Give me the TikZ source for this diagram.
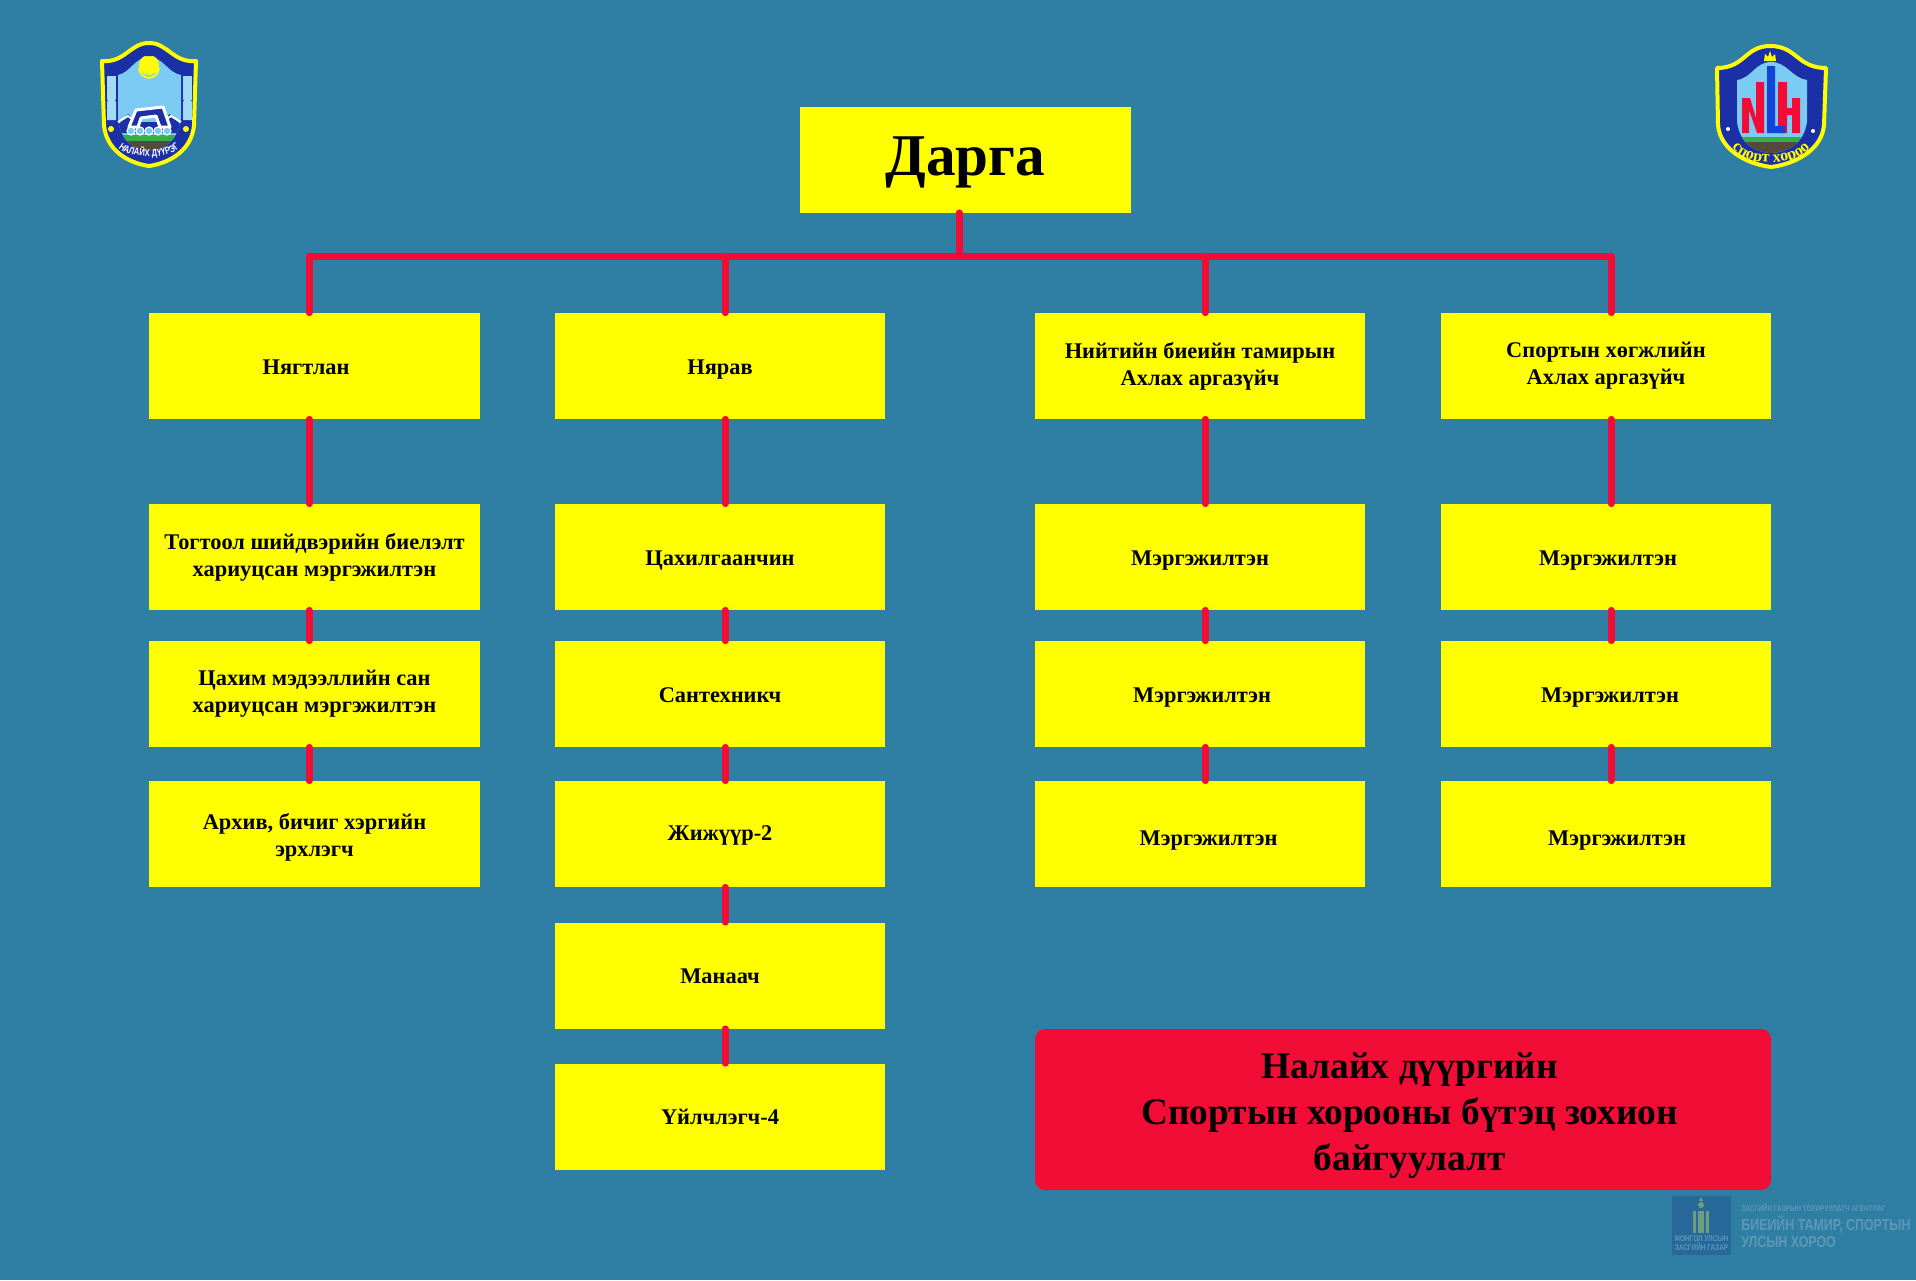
\documentclass[tikz,border=0pt]{standalone}
\usepackage{fontspec}
\setmainfont{Liberation Serif}
\newfontfamily\markfont[FakeStretch=0.78]{Liberation Sans}
\usetikzlibrary{decorations.text}
\definecolor{bgteal}{HTML}{2E7FA3}
\definecolor{boxyellow}{HTML}{FFFF00}
\definecolor{linkred}{HTML}{F20D36}
\definecolor{shieldblue}{HTML}{1B2FA6}
\definecolor{skyblue}{HTML}{7CCBF2}
\definecolor{rockbrown}{HTML}{55483C}
\definecolor{grassgreen}{HTML}{35B043}
\definecolor{letterblue}{HTML}{1244DC}
\definecolor{govblue}{HTML}{27699B}
\definecolor{govtext}{HTML}{5C98B6}
\definecolor{govgreen}{HTML}{6E9E7E}
\tikzset{
	postbox/.style={fill=boxyellow,minimum width=165.25pt,minimum height=53pt,inner sep=0pt,align=center,font=\bfseries\fontsize{11.2}{13.5}\selectfont},
	oneline/.style={postbox,text height=9.5pt,text depth=1.5pt},
	topbox/.style={postbox,text height=21pt,text depth=5.5pt,font=\bfseries\fontsize{29.6}{34}\selectfont},
	titlebox/.style={fill=linkred,rounded corners=5pt,minimum width=368pt,minimum height=80.5pt,inner sep=0pt,align=center,font=\bfseries\fontsize{18.7}{23}\selectfont},
	link/.style={draw=linkred,line width=3.5pt,line cap=round},
	govnote/.style={text=govtext,anchor=west,inner sep=0pt,font=\markfont\bfseries\fontsize{7.95}{10}\selectfont},
	govsmall/.style={govnote,font=\markfont\bfseries\fontsize{4.13}{5}\selectfont},
}
\newcommand{\emblemfont}{\markfont\bfseries\color{white}\fontsize{5}{5}\selectfont}
\newcommand{\sportfont}{\bfseries\color{boxyellow}\fontsize{8}{9}\selectfont}
\begin{document}
\begin{tikzpicture}[x=0.5pt,y=-0.5pt]
	\useasboundingbox (0,0) rectangle (1916,1280);
	\fill[bgteal] (0,0) rectangle (1916,1280);
	% boxes
	\node[topbox] (darga) at (965.5,159.5) {Дарга};
	\node[oneline] (nyagt) at (314.5,366) {\hspace*{-8.5pt}Нягтлан};
	\node[oneline] (nyarav) at (720,366) {Нярав};
	\node[postbox] (biye) at (1200,366) {Нийтийн биеийн тамирын\\Ахлах аргазүйч};
	\node[postbox] (sport) at (1606,366) {Спортын хөгжлийн\\Ахлах аргазүйч};
	\node[postbox] (togtool) at (314.5,557) {Тогтоол шийдвэрийн биелэлт\\хариуцсан мэргэжилтэн};
	\node[postbox] (tsakhim) at (314.5,694) {Цахим мэдээллийн сан\\хариуцсан мэргэжилтэн};
	\node[postbox] (arkhiv) at (314.5,834) {\rule{0pt}{11pt}Архив, бичиг хэргийн\\эрхлэгч};
	\node[oneline] (tsakhil) at (720,557) {Цахилгаанчин};
	\node[oneline] (santekh) at (720,694) {Сантехникч};
	\node[oneline] (jijuur) at (720,834) {\raisebox{1pt}{Жижүүр-2}};
	\node[oneline] (manaach) at (720,975.5) {Манаач};
	\node[oneline] (uilch) at (720,1116.5) {Үйлчлэгч-4};
	\node[oneline] (mergA) at (1200,557) {Мэргэжилтэн};
	\node[oneline] (mergB) at (1200,694) {\hspace*{2pt}Мэргэжилтэн};
	\node[oneline] (mergC) at (1200,834) {\hspace*{8.5pt}\raisebox{-1.5pt}{Мэргэжилтэн}};
	\node[oneline] (mergD) at (1606,557) {\hspace*{2pt}Мэргэжилтэн};
	\node[oneline] (mergE) at (1606,694) {\hspace*{4pt}Мэргэжилтэн};
	\node[oneline] (mergF) at (1606,834) {\hspace*{11pt}\raisebox{-1.5pt}{Мэргэжилтэн}};
	\node[titlebox] (title) at (1403,1109.5) {\rule{0pt}{19pt}\hspace*{6.7pt}Налайх дүүргийн\\\hspace*{6.7pt}Спортын хорооны бүтэц зохион\\\hspace*{6.7pt}байгуулалт};
	% connectors
	\coordinate (busTop) at (959,256);
	\coordinate (busA) at (309,256);
	\coordinate (busB) at (725,256);
	\coordinate (busC) at (1205,256);
	\coordinate (busD) at (1611,256);
	\draw[link,line cap=butt] (busA) -- (busD);
	\draw[link] (busTop |- darga.south) -- (busTop);
	\draw[link] (busA) -- (busA |- nyagt.north);
	\draw[link] (busB) -- (busB |- nyarav.north);
	\draw[link] (busC) -- (busC |- biye.north);
	\draw[link] (busD) -- (busD |- sport.north);
	\draw[link] (busA |- nyagt.south) -- (busA |- togtool.north);
	\draw[link] (busA |- togtool.south) -- (busA |- tsakhim.north);
	\draw[link] (busA |- tsakhim.south) -- (busA |- arkhiv.north);
	\draw[link] (busB |- nyarav.south) -- (busB |- tsakhil.north);
	\draw[link] (busB |- tsakhil.south) -- (busB |- santekh.north);
	\draw[link] (busB |- santekh.south) -- (busB |- jijuur.north);
	\draw[link] (busB |- jijuur.south) -- (busB |- manaach.north);
	\draw[link] (busB |- manaach.south) -- (busB |- uilch.north);
	\draw[link] (busC |- biye.south) -- (busC |- mergA.north);
	\draw[link] (busC |- mergA.south) -- (busC |- mergB.north);
	\draw[link] (busC |- mergB.south) -- (busC |- mergC.north);
	\draw[link] (busD |- sport.south) -- (busD |- mergD.north);
	\draw[link] (busD |- mergD.south) -- (busD |- mergE.north);
	\draw[link] (busD |- mergE.south) -- (busD |- mergF.north);
	% left emblem
	\draw[fill=shieldblue,draw=boxyellow,line width=2pt,line join=round] (102,61) .. controls (125,63) and (130,43) .. (149,43) .. controls (168,43) and (173,63) .. (196,61) -- (194,125) .. controls (192,150) and (170,163) .. (149,166) .. controls (128,163) and (106,150) .. (104,125) -- cycle;
	\begin{scope}
		\clip (118,75) .. controls (130,73) and (135,57) .. (149,57) .. controls (163,57) and (168,73) .. (181,75) -- (181,118) .. controls (178,140) and (165,150) .. (149,151) .. controls (133,150) and (120,140) .. (118,118) -- cycle;
		\fill[skyblue] (110,50) rectangle (190,155);
		\fill[shieldblue] (118,125) -- (128,114) -- (138,122) -- (160,122) -- (170,114) -- (181,125) -- (181,133) -- (118,133) -- cycle;
		\fill[grassgreen] (110,135) rectangle (190,141);
		\fill[rockbrown] (110,141) rectangle (190,155);
	\end{scope}
	\draw[white,line width=1pt] (118,122) -- (128,116) -- (134,120);
	\draw[white,line width=1pt] (181,122) -- (171,116) -- (165,120);
	\draw[fill=shieldblue,draw=white,line width=1.5pt,line join=round] (129,127) -- (136,110) -- (163,107) -- (170,127) -- (160,127) -- (156,116) -- (141,118) -- (138,127) -- cycle;
	\foreach \dotx in {131,140,149,158,167}
		\draw[white,fill=skyblue,line width=0.6pt] (\dotx,131) circle[radius=4];
	\fill[skyblue!70!white] (107,76) rectangle (116,100);
	\fill[skyblue!70!white] (107,102) -- (111.5,95) -- (116,102) -- (116,120) -- (107,120) -- cycle;
	\fill[skyblue!70!white] (183,76) rectangle (192,100);
	\fill[skyblue!70!white] (183,102) -- (187.5,95) -- (192,102) -- (192,120) -- (183,120) -- cycle;
	\fill[boxyellow] (111,129) circle[radius=3];
	\fill[boxyellow] (186,129) circle[radius=3];
	\fill[boxyellow] (149,65) circle[radius=10];
	\draw[boxyellow,line width=1pt] (139,68) .. controls (141,81) and (157,81) .. (159,68);
	\fill[shieldblue] (142,52) -- (146,55) -- (148,46) -- (150,46) -- (152,55) -- (156,52) -- (153,56) -- (145,56) -- cycle;
	\path[decorate,decoration={text along path,text align=center,text={|\emblemfont|НАЛАЙХ ДҮҮРЭГ}}] (117,146) .. controls (126,160) and (172,160) .. (181,146);
	% right emblem
	\draw[fill=shieldblue,draw=boxyellow,line width=2pt,line join=round] (1717,68) .. controls (1745,68) and (1745,46) .. (1770,46) .. controls (1797,46) and (1797,68) .. (1826,68) -- (1824,125) .. controls (1822,150) and (1795,164) .. (1771,167) .. controls (1747,164) and (1720,150) .. (1718,125) -- cycle;
	\begin{scope}
		\clip (1737,80) .. controls (1752,78) and (1755,62) .. (1771,62) .. controls (1787,62) and (1792,78) .. (1807,80) -- (1807,122) .. controls (1804,142) and (1790,152) .. (1771,153) .. controls (1752,152) and (1740,142) .. (1737,122) -- cycle;
		\fill[skyblue] (1730,55) rectangle (1815,160);
		\fill[grassgreen] (1730,137) rectangle (1815,142);
		\fill[rockbrown] (1730,142) rectangle (1815,160);
	\end{scope}
	\fill[linkred] (1742,98) -- (1750,98) -- (1756,118) -- (1756,82) -- (1764,82) -- (1764,133) -- (1757,133) -- (1749,110) -- (1749,133) -- (1742,133) -- cycle;
	\fill[linkred] (1778,82) -- (1787,82) -- (1787,108) -- (1792,108) -- (1792,98) -- (1800,98) -- (1800,133) -- (1792,133) -- (1792,115) -- (1787,115) -- (1787,133) -- (1778,133) -- cycle;
	\fill[letterblue] (1767,66) -- (1775,66) -- (1775,126) -- (1785,126) -- (1785,133) -- (1767,133) -- cycle;
	\fill[boxyellow] (1764,61) -- (1765,54) -- (1768,57) -- (1770,51) -- (1772,57) -- (1775,54) -- (1776,61) -- cycle;
	\fill[white] (1728,129) circle[radius=2];
	\fill[white] (1813,131) circle[radius=2];
	\path[decorate,decoration={text along path,text align=center,text={|\sportfont|спорт хороо}}] (1729,143) .. controls (1741,169) and (1801,169) .. (1813,143);
	% watermark
	\fill[govblue] (1672,1196) rectangle (1731,1255);
	\fill[govgreen] (1693,1211) rectangle (1696,1233);
	\fill[govgreen] (1706,1211) rectangle (1709,1233);
	\fill[govgreen] (1698,1211) rectangle (1704,1233);
	\fill[govgreen] (1701,1205) circle[radius=3];
	\fill[govgreen] (1699,1201) -- (1701,1197) -- (1703,1201) -- cycle;
	\node[govsmall,anchor=center] (govA) at (1701.5,1239) {МОНГОЛ УЛСЫН};
	\node[govsmall,anchor=center] (govB) at (1701.5,1247) {ЗАСГИЙН ГАЗАР};
	\node[govsmall] (govC) at (1741,1208) {ЗАСГИЙН ГАЗРЫН ТОХИРУУЛАГЧ АГЕНТЛАГ};
	\node[govnote] (govD) at (1741,1225) {БИЕИЙН ТАМИР, СПОРТЫН};
	\node[govnote] (govE) at (1741,1242) {УЛСЫН ХОРОО};
\end{tikzpicture}
\end{document}
